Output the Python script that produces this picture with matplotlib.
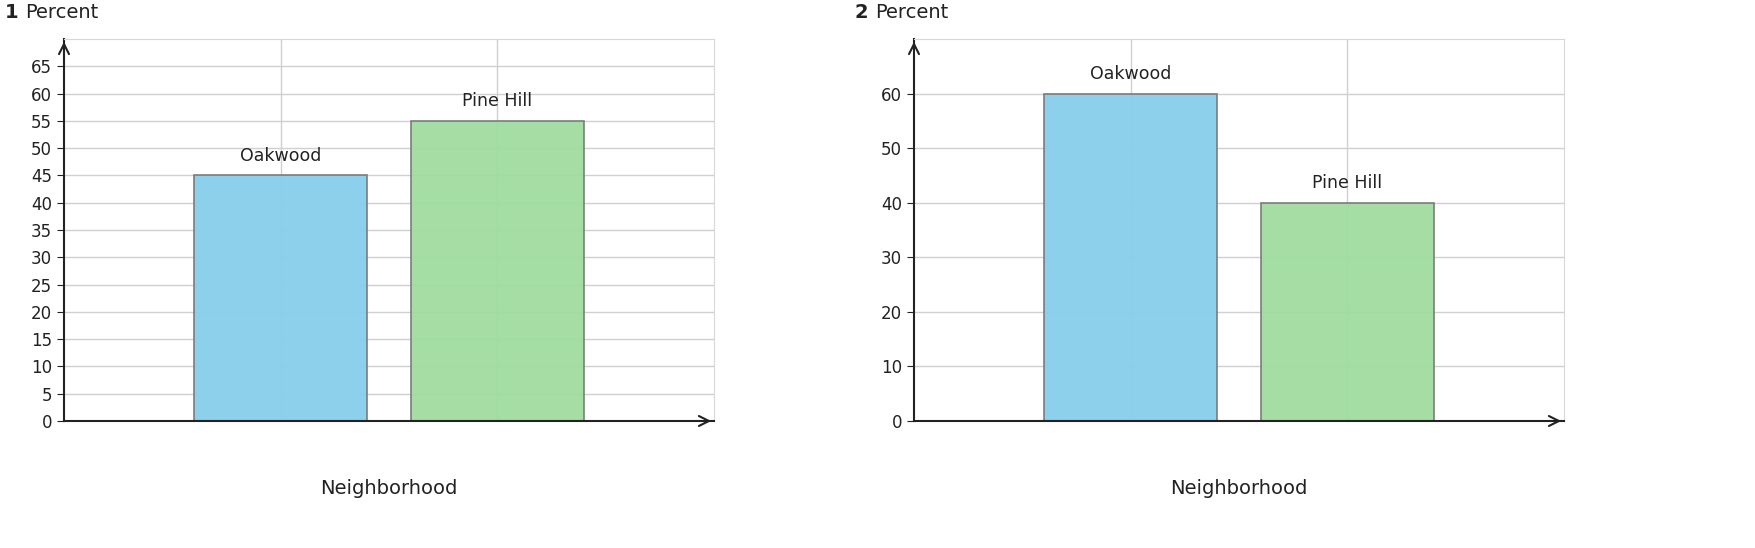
import matplotlib.pyplot as plt
import numpy as np

categories = ['Oakwood', 'Pine Hill']
values_1 = [45, 55]
values_2 = [60, 40]
colors = ['#87CEEB', '#A0DCA0']

panels = [('1', values_1, np.arange(0, 70, 5)), ('2', values_2, np.arange(0, 70, 10))]

fig = plt.figure(figsize=(17.56, 5.48), dpi=100)
lefts = [64 / 1756, 914 / 1756]

for left, (num, vals, yticks) in zip(lefts, panels):
    ax = fig.add_axes([left, 127 / 548, 650 / 1756, 382 / 548])
    x = np.arange(1, len(categories) + 1)
    ax.grid(True, color='#d0d0d0', linewidth=1)
    ax.set_axisbelow(True)
    ax.bar(x, vals, width=0.8, color=colors, edgecolor='#777777', linewidth=1.2, alpha=0.95)
    ax.set_xlim(0, 3)
    ax.set_ylim(0, 70)
    ax.set_yticks(yticks)
    ax.set_xticks(x)
    ax.set_xticklabels([])
    ax.tick_params(axis='x', length=0)
    ax.tick_params(axis='y', labelsize=12, length=5, color='#222222', labelcolor='#222222')
    for s in ['top', 'right']:
        ax.spines[s].set_color('#d8d8d8')
    for s in ['left', 'bottom']:
        ax.spines[s].set_color('#222222')
        ax.spines[s].set_linewidth(1.5)
    ax.annotate('', xy=(0, 1.0), xycoords='axes fraction', xytext=(0, 0.97),
                arrowprops=dict(arrowstyle='->', color='#222222', lw=1.5, mutation_scale=18))
    ax.annotate('', xy=(1.0, 0), xycoords='axes fraction', xytext=(0.98, 0),
                arrowprops=dict(arrowstyle='->', color='#222222', lw=1.5, mutation_scale=18))
    for xi, v, c in zip(x, vals, categories):
        ax.text(xi, v + 2, c, ha='center', va='bottom', fontsize=12.5, color='#222222')
    ax.set_xlabel('Neighborhood', fontsize=14, color='#222222', labelpad=38)
    fig.text(left - 59 / 1756, 1 - 12 / 548, num, fontsize=14, fontweight='bold', va='center', color='#222222')
    fig.text(left - 39 / 1756, 1 - 12 / 548, 'Percent', fontsize=14, va='center', color='#222222')

fig.savefig('out.png', dpi=100)
